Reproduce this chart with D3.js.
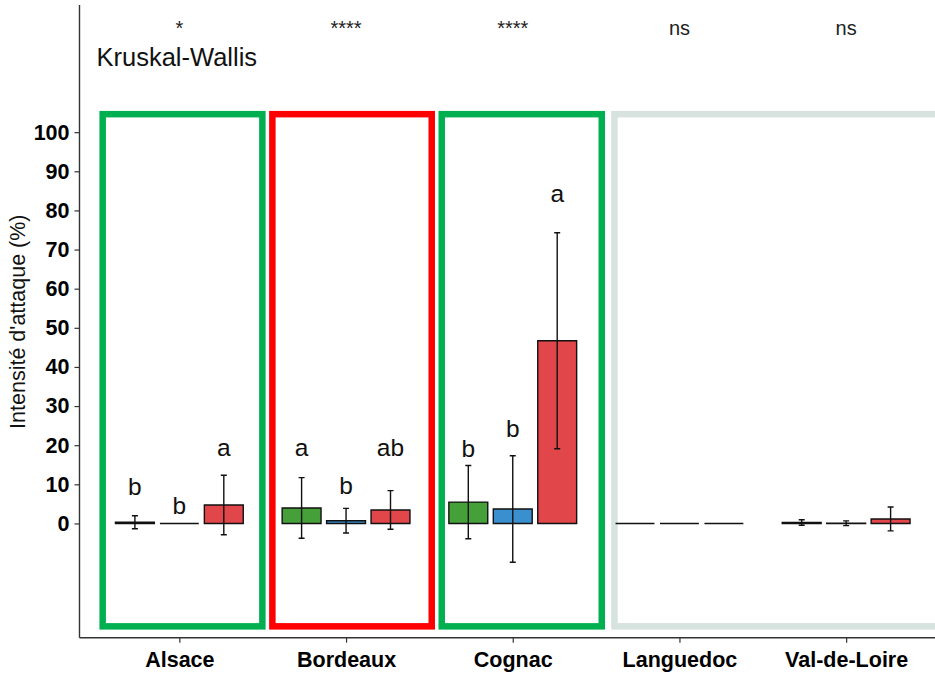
<!DOCTYPE html>
<html>
<head>
<meta charset="utf-8">
<script src="https://cdn.jsdelivr.net/npm/d3@7"></script>
<style>
  html, body { margin: 0; padding: 0; background: #fff; }
  text { font-family: "Liberation Sans", Arial, sans-serif; }
</style>
</head>
<body>
<svg id="chart" width="935" height="674"></svg>
<script>
// Regions and per-region treatment statistics (three treatments per region)
const regions = ["Alsace", "Bordeaux", "Cognac", "Languedoc", "Val-de-Loire"];
const treatmentColors = ["#45a03a", "#3a8fcf", "#e0464a"];
const means = [
  [0.3, 0, 4.7],
  [3.95, 0.7, 3.45],
  [5.45, 3.7, 46.7],
  [0, 0, 0],
  [0.25, 0.05, 1.15]
];
const sds = [
  [1.65, 0, 7.6],
  [7.75, 3.15, 4.95],
  [9.35, 13.6, 27.6],
  [0, 0, 0],
  [0.7, 0.6, 3.05]
];
// Compact letter display for pairwise comparisons, and where each letter sits
const letters = [
  ["b", "b", "a"],
  ["a", "b", "ab"],
  ["b", "b", "a"],
  ["", "", ""],
  ["", "", ""]
];
const letterY = [
  [7.3, 2.4, 17.2],
  [17.3, 7.5, 17.3],
  [17.0, 22.0, 82.2],
  [0, 0, 0],
  [0, 0, 0]
];
// Kruskal-Wallis significance per region
const kwLabels = ["*", "****", "****", "ns", "ns"];
// Highlight frames around groups of regions (category units)
const frameStart = [-0.46, 0.558, 1.574, 2.61];
const frameEnd = [0.498, 1.514, 2.534, 4.56];
const frameColors = ["#00b050", "#ff0000", "#00b050", "#d6e3de"];
const frameLow = -26.3, frameHigh = 104.6;
const yTicks = d3.range(0, 101, 10);

const svg = d3.select("#chart");

const x = d3.scaleLinear().domain([-0.599, 4.533]).range([79.5, 935]);
const y = d3.scaleLinear().domain([-29.2, 132.5]).range([637.7, 5]);

const dodge = 0.8 / 3;
const barW = 0.7 / 3;

// Frames
svg.append("g").selectAll("rect")
  .data(frameStart.map((s, i) => ({ s, e: frameEnd[i], c: frameColors[i] })))
  .join("rect")
  .attr("x", d => x(d.s))
  .attr("y", y(frameHigh))
  .attr("width", d => x(d.e) - x(d.s))
  .attr("height", y(frameLow) - y(frameHigh))
  .attr("fill", "none")
  .attr("stroke", d => d.c)
  .attr("stroke-width", 6.5);

// Flatten bar records
const bars = [];
regions.forEach((r, i) => {
  means[i].forEach((m, j) => {
    bars.push({ i, j, m, sd: sds[i][j], letter: letters[i][j], ly: letterY[i][j] });
  });
});
const cx = d => x(d.i + (d.j - 1) * dodge);

// Bars (paths so that zero-height bars still show their outline)
svg.append("g").selectAll("path")
  .data(bars)
  .join("path")
  .attr("d", d => {
    const x0 = x(d.i + (d.j - 1) * dodge - barW / 2);
    const x1 = x(d.i + (d.j - 1) * dodge + barW / 2);
    return `M${x0},${y(0)}H${x1}V${y(d.m)}H${x0}Z`;
  })
  .attr("fill", d => treatmentColors[d.j])
  .attr("stroke", "#111")
  .attr("stroke-width", 1.4);

// Error bars (mean ± sd)
const eb = svg.append("g").attr("stroke", "#111").attr("stroke-width", 1.4).attr("fill", "none");
bars.filter(d => d.sd > 0).forEach(d => {
  const c = cx(d), t = y(d.m + d.sd), b = y(d.m - d.sd);
  eb.append("path").attr("d", `M${c},${t}V${b}M${c - 3},${t}H${c + 3}M${c - 3},${b}H${c + 3}`);
});

// Letters
svg.append("g").selectAll("text")
  .data(bars.filter(d => d.letter))
  .join("text")
  .attr("x", cx)
  .attr("y", d => y(d.ly))
  .attr("text-anchor", "middle")
  .attr("font-size", 24.5)
  .attr("fill", "#111")
  .text(d => d.letter);

// Kruskal-Wallis significance
svg.append("g").selectAll("text")
  .data(kwLabels)
  .join("text")
  .attr("x", (d, i) => x(i))
  .attr("y", 35)
  .attr("text-anchor", "middle")
  .attr("font-size", 20)
  .attr("fill", "#222")
  .text(d => d);

svg.append("text")
  .attr("x", 96.5)
  .attr("y", 65.5)
  .attr("font-size", 25.5)
  .attr("fill", "#111")
  .text("Kruskal-Wallis");

// Axes
const yAxis = svg.append("g")
  .attr("transform", `translate(${x(-0.599)},0)`)
  .call(d3.axisLeft(y).tickValues(yTicks).tickSize(5).tickPadding(5));
yAxis.select(".domain").remove();
yAxis.selectAll(".tick line").attr("stroke", "#333").attr("stroke-width", 1.2);
yAxis.selectAll(".tick text")
  .attr("font-size", 21.5).attr("font-weight", "bold").attr("fill", "#000")
  .attr("font-family", "Liberation Sans, Arial, sans-serif");

const xAxis = svg.append("g")
  .attr("transform", `translate(0,${y(-29.2)})`)
  .call(d3.axisBottom(x).tickValues(d3.range(regions.length)).tickFormat(i => regions[i]).tickSize(5).tickPadding(9));
xAxis.select(".domain").remove();
xAxis.selectAll(".tick line").attr("stroke", "#333").attr("stroke-width", 1.2);
xAxis.selectAll(".tick text")
  .attr("font-size", 21.5).attr("font-weight", "bold").attr("fill", "#000")
  .attr("font-family", "Liberation Sans, Arial, sans-serif");

// Axis lines
svg.append("line")
  .attr("x1", x(-0.599)).attr("x2", x(-0.599))
  .attr("y1", y(132.5)).attr("y2", y(-29.2))
  .attr("stroke", "#333").attr("stroke-width", 1.4);
svg.append("line")
  .attr("x1", x(-0.599)).attr("x2", x(4.533))
  .attr("y1", y(-29.2)).attr("y2", y(-29.2))
  .attr("stroke", "#333").attr("stroke-width", 1.4);

// Y axis title
svg.append("text")
  .attr("transform", `translate(25,${321.7}) rotate(-90)`)
  .attr("text-anchor", "middle")
  .attr("font-size", 21.5)
  .attr("fill", "#111")
  .text("Intensité d'attaque (%)");
</script>
</body>
</html>
